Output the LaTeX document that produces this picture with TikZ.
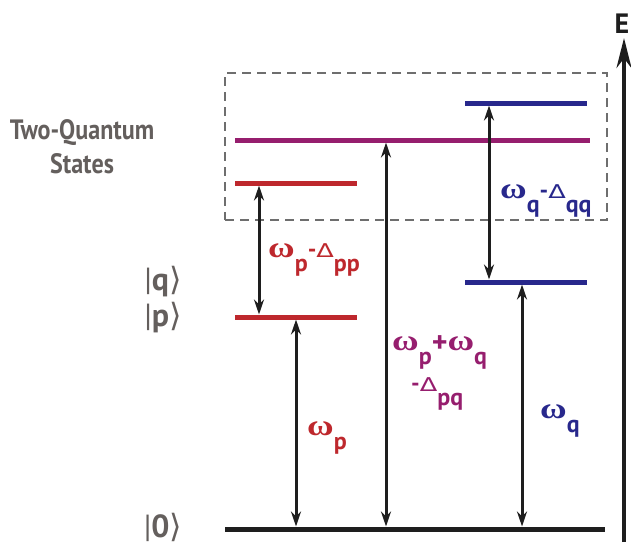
\documentclass[tikz,border=0pt]{standalone}
\usepackage{fontspec}
\setmainfont{PT Sans}
\newfontfamily\djv{DejaVu Sans}
\newfontfamily\lsr{Liberation Serif}
\usetikzlibrary{arrows.meta}
\definecolor{lvred}{RGB}{190,40,45}
\definecolor{lvpur}{RGB}{150,30,110}
\definecolor{lvblue}{RGB}{40,40,140}
\definecolor{lvgray}{RGB}{100,95,93}
\definecolor{lvblack}{RGB}{30,30,30}
\definecolor{lvdash}{RGB}{110,110,110}
\newcommand{\lsub}[1]{\raisebox{-14pt}{\fontsize{24}{24}\selectfont #1}}
\newcommand{\lom}{\scalebox{1.3}[1.05]{\lsr\bfseries\fontsize{28}{28}\selectfont ω}}
\newcommand{\ldel}{\scalebox{1.35}[1]{\djv\mdseries\fontsize{19}{19}\selectfont Δ}}
\newcommand{\lplus}{\raisebox{-2pt}{\fontsize{30}{30}\selectfont +}}
\newcommand{\lket}[1]{{\mdseries|}#1{\mdseries\djv ⟩}}
\begin{document}
\begin{tikzpicture}[x=1pt,y=-1pt,
  level/.style={line width=5pt},
  trans/.style={line width=3pt, draw=lvblack, {Stealth[length=15pt,width=10pt]}-{Stealth[length=15pt,width=10pt]}},
  lab/.style={inner sep=0pt, anchor=base west, font=\bfseries\fontsize{24}{26}\selectfont},
  statelab/.style={inner sep=0pt, anchor=base, text=lvgray, font=\bfseries\fontsize{28}{28}\selectfont},
  ketlab/.style={inner sep=0pt, anchor=base, text=lvgray, font=\bfseries\fontsize{32}{32}\selectfont}]
\useasboundingbox (0,0) rectangle (631,546);
% dashed box
\node[draw=lvdash, dash pattern=on 9pt off 6pt, line width=2.5pt, minimum width=382pt, minimum height=147pt, inner sep=0pt] (box) at (416,146.5) {};
% levels
\draw[level, lvblack] (225,529) coordinate (g0) -- (605,529) coordinate (g1);
\draw[level, lvred] (235,317) coordinate (p0) -- (357,317) coordinate (p1);
\draw[level, lvred] (235,183) coordinate (pp0) -- (357,183) coordinate (pp1);
\draw[level, lvpur] (235,140) coordinate (pq0) -- (590,140) coordinate (pq1);
\draw[level, lvblue] (465,282) coordinate (q0) -- (587,282) coordinate (q1);
\draw[level, lvblue] (465,103) coordinate (qq0) -- (587,103) coordinate (qq1);
% arrow end points
\coordinate (a1b) at (259,314.5); \coordinate (a1t) at (259,185.5);
\coordinate (a2b) at (296,526.5); \coordinate (a2t) at (296,319.5);
\coordinate (a3b) at (386,526.5); \coordinate (a3t) at (386,142.5);
\coordinate (a4b) at (522,526.5); \coordinate (a4t) at (522,284.5);
\coordinate (a5b) at (489,279.5); \coordinate (a5t) at (489,105.5);
\draw[trans] (a1b) -- (a1t);
\draw[trans] (a2b) -- (a2t);
\draw[trans] (a3b) -- (a3t);
\draw[trans] (a4b) -- (a4t);
\draw[trans] (a5b) -- (a5t);
% energy axis
\coordinate (e0) at (624,542);
\coordinate (e1) at (624,38);
\draw[line width=4pt, lvblack, -{Stealth[length=30pt,width=15pt]}] (e0) -- (e1);
\node[inner sep=0pt, anchor=base, font=\bfseries\fontsize{28}{28}\selectfont, text=lvblack] (E) at (622,33) {E};
% labels
\node[statelab] (tq1) at (82,139) {\scalebox{0.86}[1]{Two-Quantum}};
\node[statelab] (tq2) at (82,173) {\scalebox{0.86}[1]{States}};
\node[ketlab] (kq) at (163,290) {\lket{q}};
\node[ketlab] (kp) at (163,326) {\lket{p}};
\node[ketlab] (k0) at (163,537) {\lket{0}};
\node[lab, text=lvred] (l1) at (268,257) {\lom\lsub{p}-\ldel\lsub{pp}};
\node[lab, text=lvpur] (l2) at (392,350) {\lom\lsub{p}\lplus\lom\lsub{q}};
\node[lab, text=lvpur] (l3) at (411,391) {-\ldel\lsub{pq}};
\node[lab, text=lvred] (l4) at (307,435) {\lom\lsub{p}};
\node[lab, text=lvblue] (l5) at (540,418) {\lom\lsub{q}};
\node[lab, text=lvblue] (l6) at (500,198) {\lom\lsub{q}-\ldel\lsub{qq}};
\end{tikzpicture}
\end{document}
